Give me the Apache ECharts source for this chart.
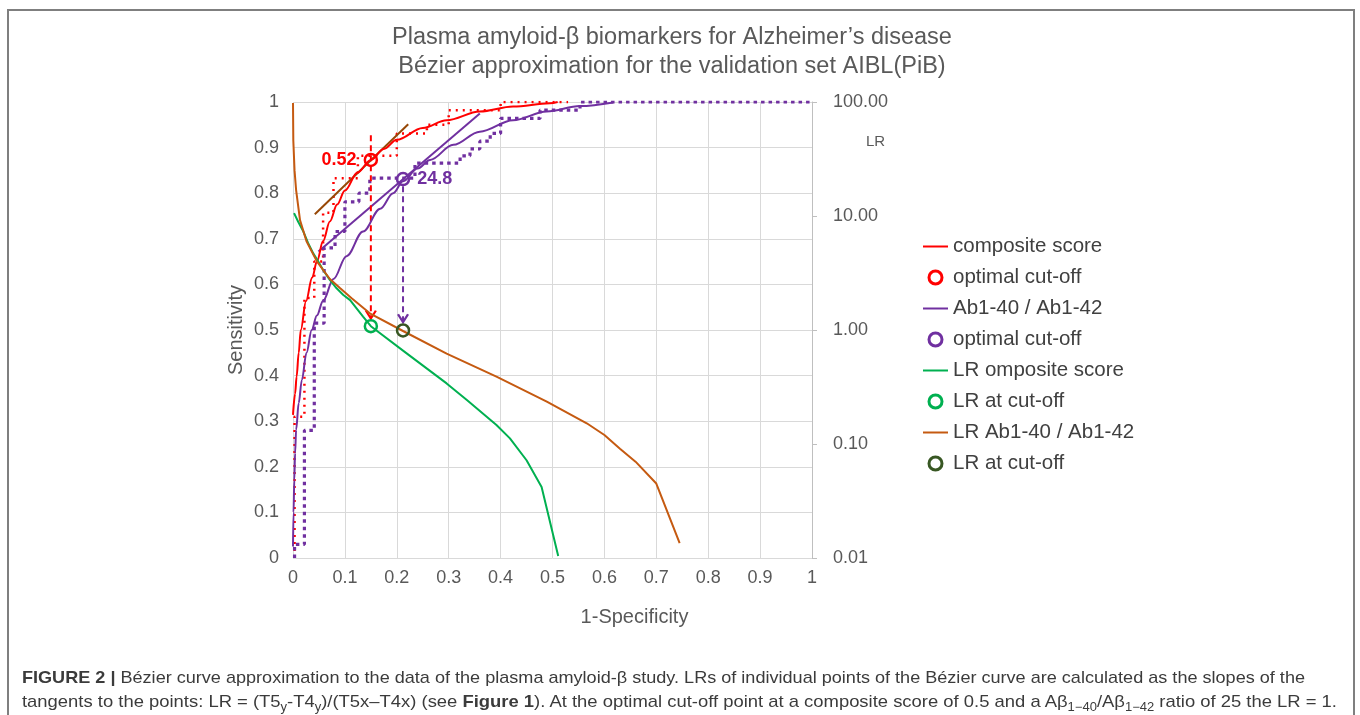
<!DOCTYPE html>
<html><head><meta charset="utf-8">
<script src="https://cdn.jsdelivr.net/npm/echarts@6/dist/echarts.min.js"></script>
<style>
html,body{margin:0;padding:0;background:#fff;}
#wrap{position:relative;width:1360px;height:715px;overflow:hidden;background:#fff;}
#frame{position:absolute;left:7px;top:9px;width:1348px;height:800px;border:2px solid #7f7f7f;box-sizing:border-box;}
#chart{position:absolute;left:0;top:0;width:1360px;height:715px;}
.cap{position:absolute;left:22px;white-space:nowrap;font-family:'Liberation Sans',Arial,sans-serif;font-size:17px;color:#3b3b3b;line-height:24px;transform-origin:0 50%;}
.cap sub{font-size:12px;vertical-align:-4px;line-height:0;}
</style></head>
<body>
<div id="wrap">
<div id="frame"></div>
<div id="chart"></div>
<div class="cap" id="cap1" style="top:666px" data-w="1283"><b>FIGURE 2 |</b> Bézier curve approximation to the data of the plasma amyloid-β study. LRs of individual points of the Bézier curve are calculated as the slopes of the</div>
<div class="cap" id="cap2" style="top:690px" data-w="1315">tangents to the points: LR = (T5<sub>y</sub>-T4<sub>y</sub>)/(T5x–T4x) (see <b>Figure 1</b>). At the optimal cut-off point at a composite score of 0.5 and a Aβ<sub>1−40</sub>/Aβ<sub>1−42</sub> ratio of 25 the LR = 1.</div>
</div>
<script>
// ---------- data ----------
const titleLines = ['Plasma amyloid-β biomarkers for Alzheimer’s disease', 'Bézier approximation for the validation set AIBL(PiB)'];
const legendNames = ['composite score','optimal cut-off','Ab1-40 / Ab1-42','optimal cut-off ','LR omposite score','LR at cut-off','LR Ab1-40 / Ab1-42','LR at cut-off '];
const cutoffLabels = ['0.52', '24.8'];

// ROC Bezier curves (x = 1-specificity, y = sensitivity)
const rocComposite = [[0,0.314],[0.004,0.36],[0.007,0.398],[0.011,0.45],[0.015,0.5],[0.025,0.563],[0.037,0.615],[0.046,0.65],[0.058,0.695],[0.071,0.738],[0.085,0.775],[0.1,0.806],[0.124,0.845],[0.15,0.873],[0.175,0.897],[0.2,0.917],[0.25,0.943],[0.296,0.96],[0.36,0.979],[0.424,0.99],[0.495,0.997],[0.51,1]];
const rocAb = [[0,0.025],[0.001,0.1],[0.0025,0.171],[0.004,0.23],[0.006,0.281],[0.011,0.34],[0.017,0.39],[0.026,0.45],[0.036,0.5],[0.046,0.532],[0.058,0.564],[0.078,0.612],[0.103,0.662],[0.135,0.716],[0.168,0.766],[0.193,0.8],[0.212,0.826],[0.24,0.854],[0.264,0.873],[0.309,0.906],[0.36,0.935],[0.424,0.96],[0.489,0.979],[0.553,0.991],[0.617,0.999]];

// empirical ROC staircases
const stepComposite = [[0.003,0],[0.003,0.31],[0.022,0.31],[0.022,0.57],[0.041,0.57],[0.041,0.65],[0.058,0.65],[0.058,0.757],[0.078,0.757],[0.078,0.833],[0.125,0.833],[0.125,0.882],[0.2,0.882],[0.2,0.931],[0.258,0.931],[0.258,0.95],[0.3,0.95],[0.3,0.982],[0.4,0.982],[0.4,1],[0.53,1]];
const stepAb = [[0.003,0],[0.003,0.03],[0.022,0.03],[0.022,0.28],[0.041,0.28],[0.041,0.515],[0.06,0.515],[0.06,0.68],[0.081,0.68],[0.081,0.716],[0.1,0.716],[0.1,0.781],[0.127,0.781],[0.127,0.8],[0.148,0.8],[0.148,0.833],[0.235,0.833],[0.235,0.866],[0.322,0.866],[0.322,0.882],[0.341,0.882],[0.341,0.897],[0.36,0.897],[0.36,0.914],[0.38,0.914],[0.38,0.931],[0.4,0.931],[0.4,0.964],[0.476,0.964],[0.476,0.982],[0.553,0.982],[0.553,1],[1,1]];

// tangents at the optimal cut-offs
const tangentComposite = [[0.042,0.754],[0.222,0.951]];
const tangentAb = [[0.049,0.672],[0.36,0.975]];

// optimal cut-off points
const cutoffComposite = [[0.15,0.873]];
const cutoffAb = [[0.212,0.831]];

// drop lines from cut-off to LR curve (sensitivity scale)
const dropComposite = [[0.15,0.927],[0.15,0.525]];
const dropAb = [[0.212,0.815],[0.212,0.517]];

// likelihood ratios (right log axis)
const lrComposite = [[0.002,10.6],[0.010,8.9],[0.020,7.3],[0.029,5.8],[0.039,4.7],[0.049,3.97],[0.058,3.36],[0.071,2.75],[0.084,2.32],[0.097,2.03],[0.110,1.83],[0.135,1.31],[0.15,1.08],[0.219,0.624],[0.296,0.34],[0.335,0.243],[0.392,0.147],[0.418,0.112],[0.45,0.072],[0.479,0.042],[0.511,0.0104]];
const lrAb = [[0,98],[0.0006,46],[0.003,25],[0.006,16.9],[0.0135,9.2],[0.026,6.0],[0.046,4.0],[0.071,2.8],[0.091,2.32],[0.113,1.9],[0.148,1.4],[0.212,0.98],[0.296,0.62],[0.392,0.39],[0.489,0.235],[0.566,0.152],[0.6,0.12],[0.63,0.091],[0.66,0.07],[0.7,0.045],[0.745,0.0135]];
const lrCutoffComposite = [[0.15,1.08]];
const lrCutoffAb = [[0.212,0.99]];

// ---------- styles ----------
const RED = '#ff0000', PURPLE = '#7030a0', GREEN = '#00b050', ORANGE = '#c55a11', DKGREEN = '#385723', BROWN = '#974806';
const FONT = "'Liberation Sans', Arial, sans-serif";
const AX = '#595959';
const ARROW = 'path://M0,0 L5,8 L10,0';
const LINE_ICON = 'path://M0,0 L25,0 L25,2 L0,2 Z';

function dropData(pts, color) {
  return pts.map((p, i) => i === pts.length - 1
    ? { value: p, symbol: ARROW, symbolSize: [10, 8], symbolOffset: [0, -4], itemStyle: { color: 'rgba(0,0,0,0)', borderColor: color, borderWidth: 2 } }
    : { value: p, symbol: 'none' });
}
function circleItem(color, w) { return { color: 'rgba(255,255,255,0)', borderColor: color, borderWidth: w || 2.5, opacity: 1 }; }
function lineItem(color) { return { color: color, borderWidth: 0 }; }

const chart = echarts.init(document.getElementById('chart'), null, { renderer: 'canvas' });
chart.setOption({
  animation: false,
  backgroundColor: 'transparent',
  textStyle: { fontFamily: FONT },
  grid: { left: 293, right: 548, top: 102, bottom: 157, containLabel: false },
  graphic: [
    { type: 'text', x: 672, y: 38, style: { text: titleLines[0], font: '23.5px ' + FONT, fill: AX, textAlign: 'center', textVerticalAlign: 'middle' } },
    { type: 'text', x: 672, y: 67, style: { text: titleLines[1], font: '23.5px ' + FONT, fill: AX, textAlign: 'center', textVerticalAlign: 'middle' } },
    { type: 'text', x: 866, y: 142, style: { text: 'LR', font: '15px ' + FONT, fill: AX, textAlign: 'left', textVerticalAlign: 'middle' } }
  ],
  legend: {
    orient: 'vertical', left: 918, top: 231, itemWidth: 25, itemHeight: 13, itemGap: 10,
    textStyle: { fontSize: 20.5, color: '#404040', fontFamily: FONT },
    selectedMode: false, symbolKeepAspect: true,
    data: [
      { name: legendNames[0], icon: LINE_ICON, itemStyle: lineItem(RED) },
      { name: legendNames[1], icon: 'circle', itemStyle: circleItem(RED, 3) },
      { name: legendNames[2], icon: LINE_ICON, itemStyle: lineItem(PURPLE) },
      { name: legendNames[3], icon: 'circle', itemStyle: circleItem(PURPLE, 3) },
      { name: legendNames[4], icon: LINE_ICON, itemStyle: lineItem(GREEN) },
      { name: legendNames[5], icon: 'circle', itemStyle: circleItem(GREEN, 3) },
      { name: legendNames[6], icon: LINE_ICON, itemStyle: lineItem(ORANGE) },
      { name: legendNames[7], icon: 'circle', itemStyle: circleItem(DKGREEN, 3) }
    ]
  },
  xAxis: {
    type: 'value', min: 0, max: 1, interval: 0.1,
    name: '1-Specificity', nameLocation: 'middle', nameGap: 49,
    nameTextStyle: { fontSize: 20, color: AX, padding: [0, 0, 0, 164] },
    axisLine: { show: false }, axisTick: { show: false },
    axisLabel: { fontSize: 18, color: AX, margin: 11, formatter: v => String(+v.toFixed(1)) },
    splitLine: { show: true, lineStyle: { color: '#d9d9d9', width: 1 } }
  },
  yAxis: [
    {
      type: 'value', min: 0, max: 1, interval: 0.1, position: 'left',
      name: 'Sensitivity', nameLocation: 'middle', nameGap: 47,
      nameTextStyle: { fontSize: 20, color: AX },
      axisLine: { show: false }, axisTick: { show: false },
      axisLabel: { fontSize: 18, color: AX, margin: 14, formatter: v => String(+v.toFixed(1)) },
      splitLine: { show: true, lineStyle: { color: '#d9d9d9', width: 1 } }
    },
    {
      type: 'log', logBase: 10, min: 0.01, max: 100, position: 'right',
      axisLine: { show: true, lineStyle: { color: '#bfbfbf', width: 1 } },
      axisTick: { show: true, length: 5, inside: false, lineStyle: { color: '#bfbfbf' } },
      axisLabel: { fontSize: 18, color: AX, margin: 21, formatter: v => Number(v).toFixed(2) },
      splitLine: { show: false }, minorTick: { show: false }
    }
  ],
  series: [
    // staircases
    { type: 'line', data: stepComposite, yAxisIndex: 0, symbol: 'none', z: 2, silent: true,
      lineStyle: { color: RED, width: 2.5, type: [2, 5] } },
    { type: 'line', data: stepAb, yAxisIndex: 0, symbol: 'none', z: 2, silent: true,
      lineStyle: { color: PURPLE, width: 3.2, type: [3.5, 4] } },
    // tangents
    { type: 'line', data: tangentComposite, yAxisIndex: 0, symbol: 'none', z: 3, silent: true,
      lineStyle: { color: BROWN, width: 2 } },
    { type: 'line', data: tangentAb, yAxisIndex: 0, symbol: 'none', z: 3, silent: true,
      lineStyle: { color: PURPLE, width: 2 } },
    // drop lines
    { type: 'line', data: dropData(dropComposite, RED), yAxisIndex: 0, z: 3, silent: true, showSymbol: true, showAllSymbol: true,
      lineStyle: { color: RED, width: 2, type: [6, 4] }, itemStyle: { color: RED } },
    { type: 'line', data: dropData(dropAb, PURPLE), yAxisIndex: 0, z: 3, silent: true, showSymbol: true, showAllSymbol: true,
      lineStyle: { color: PURPLE, width: 2, type: [6, 4] }, itemStyle: { color: PURPLE } },
    // legend series
    { name: legendNames[0], type: 'line', data: rocComposite, yAxisIndex: 0, symbol: 'none', smooth: 0.35, smoothMonotone: 'x', z: 4,
      lineStyle: { color: RED, width: 2 }, itemStyle: { color: RED } },
    { name: legendNames[1], type: 'scatter', data: cutoffComposite, yAxisIndex: 0, symbol: 'circle', symbolSize: 12, z: 6,
      itemStyle: circleItem(RED),
      label: { show: true, position: 'left', distance: 7, formatter: () => cutoffLabels[0], color: RED, fontWeight: 'bold', fontSize: 18, fontFamily: FONT } },
    { name: legendNames[2], type: 'line', data: rocAb, yAxisIndex: 0, symbol: 'none', smooth: 0.35, smoothMonotone: 'x', z: 4,
      lineStyle: { color: PURPLE, width: 2 }, itemStyle: { color: PURPLE } },
    { name: legendNames[3], type: 'scatter', data: cutoffAb, yAxisIndex: 0, symbol: 'circle', symbolSize: 12, z: 6,
      itemStyle: circleItem(PURPLE),
      label: { show: true, position: 'right', distance: 7, formatter: () => cutoffLabels[1], color: PURPLE, fontWeight: 'bold', fontSize: 18, fontFamily: FONT } },
    { name: legendNames[4], type: 'line', data: lrComposite, yAxisIndex: 1, symbol: 'none', smooth: false, z: 4,
      lineStyle: { color: GREEN, width: 2 }, itemStyle: { color: GREEN } },
    { name: legendNames[5], type: 'scatter', data: lrCutoffComposite, yAxisIndex: 1, symbol: 'circle', symbolSize: 12, z: 6,
      itemStyle: circleItem(GREEN) },
    { name: legendNames[6], type: 'line', data: lrAb, yAxisIndex: 1, symbol: 'none', smooth: false, z: 4,
      lineStyle: { color: ORANGE, width: 2 }, itemStyle: { color: ORANGE } },
    { name: legendNames[7], type: 'scatter', data: lrCutoffAb, yAxisIndex: 1, symbol: 'circle', symbolSize: 12, z: 6,
      itemStyle: circleItem(DKGREEN) }
  ]
});

// fit caption lines to the reference widths
document.querySelectorAll('.cap').forEach(el => {
  const w = el.getBoundingClientRect().width;
  const t = +el.dataset.w;
  if (w > 0) el.style.transform = 'scaleX(' + (t / w) + ')';
});
</script>
</body></html>
